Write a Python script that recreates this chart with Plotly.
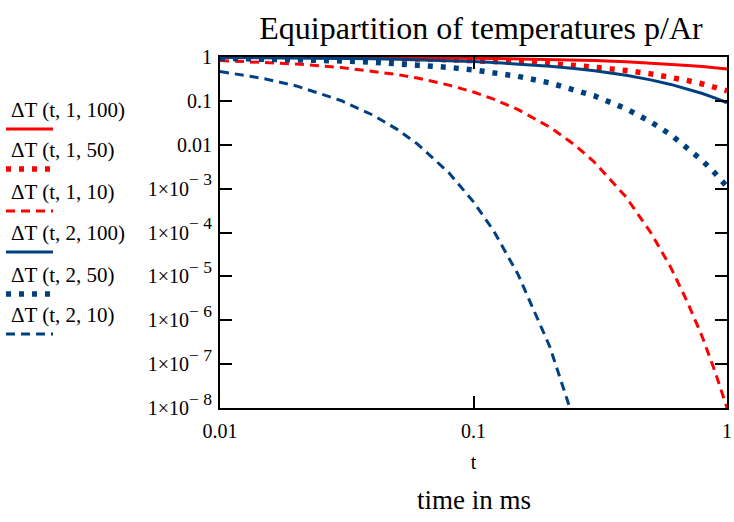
import plotly.graph_objects as go

# ---- data ----
t = [0.01, 0.015, 0.02, 0.03, 0.04, 0.05, 0.06, 0.08, 0.1, 0.12, 0.15,
     0.2, 0.25, 0.3, 0.4, 0.5, 0.6, 0.7, 0.8, 0.9, 1.0]

dT_1_100 = [0.994, 0.991, 0.987, 0.981, 0.975, 0.969, 0.963, 0.951, 0.939, 0.927, 0.910,
            0.882, 0.854, 0.828, 0.777, 0.730, 0.685, 0.643, 0.604, 0.567, 0.533]
dT_1_50 = [0.982, 0.974, 0.965, 0.948, 0.932, 0.915, 0.899, 0.868, 0.838, 0.809, 0.767,
           0.702, 0.643, 0.588, 0.493, 0.413, 0.346, 0.290, 0.243, 0.203, 0.170]
dT_1_10 = [0.832, 0.759, 0.692, 0.576, 0.479, 0.399, 0.332, 0.229, 0.159, 0.110, 0.0633,
           0.0252, 0.01005, 0.0040, 6.4e-4, 1.0e-4, 1.6e-5, 2.5e-6, 4.1e-7, 6.4e-8, 1.0e-8]
dT_2_100 = [0.976, 0.965, 0.953, 0.930, 0.908, 0.887, 0.866, 0.825, 0.787, 0.750, 0.698,
            0.619, 0.549, 0.487, 0.383, 0.301, 0.237, 0.186, 0.147, 0.115, 0.0907]
dT_2_50 = [0.934, 0.903, 0.873, 0.815, 0.762, 0.712, 0.665, 0.580, 0.507, 0.442, 0.361,
           0.257, 0.183, 0.130, 0.0659, 0.0334, 0.0169, 0.00856, 0.00434, 0.00220, 0.00111]
t_2_10 = [0.01, 0.015, 0.02, 0.03, 0.04, 0.05, 0.06, 0.08, 0.1, 0.12, 0.15, 0.2, 0.24]
dT_2_10 = [0.468, 0.320, 0.219, 0.102, 0.0478, 0.0224, 0.0105, 2.29e-3, 5.0e-4, 1.1e-4,
           1.1e-5, 2.5e-7, 1.0e-8]

names = ["ΔT (t, 1, 100)", "ΔT (t, 1, 50)", "ΔT (t, 1, 10)",
         "ΔT (t, 2, 100)", "ΔT (t, 2, 50)", "ΔT (t, 2, 10)"]
xs = [t, t, t, t, t, t_2_10]
ys = [dT_1_100, dT_1_50, dT_1_10, dT_2_100, dT_2_50, dT_2_10]

y_tickvals = [1, 0.1, 0.01, 1e-3, 1e-4, 1e-5, 1e-6, 1e-7, 1e-8]
y_ticktext = ["1", "0.1", "0.01"] + [
    "1×10<span style='font-size:25px'><sup>− %d</sup></span>" % k for k in range(3, 9)]
x_tickvals = [0.01, 0.1, 1]
x_ticktext = ["0.01", "0.1", "1"]

RED = "#ff0000"
BLUE = "#00407f"
colors = [RED, RED, RED, BLUE, BLUE, BLUE]
DOT = "5px,8px"
DASH = "9px,6px"
dashes = ["solid", DOT, DASH, "solid", DOT, DASH]
widths = [3, 5.5, 3, 3, 5.5, 3]

FONT = "Times New Roman, Liberation Serif, serif"

fig = go.Figure()
for x, y, n, c, d, w in zip(xs, ys, names, colors, dashes, widths):
    fig.add_trace(go.Scatter(x=x, y=y, name=n, mode="lines",
                             line=dict(color=c, dash=d, width=w),
                             showlegend=False))

# plot-area geometry in pixels (layout only)
L, R, T, B = 220, 727, 57, 408
W, H = 734, 522


def px(x):
    return (x - L) / (R - L)


def py(y):
    return (B - y) / (B - T)


# custom legend: text above line sample
annotations = []
shapes = []
text_y = [110, 150, 192, 233, 275, 315]
for i, (n, c, d, w) in enumerate(zip(names, colors, dashes, widths)):
    ty = text_y[i]
    annotations.append(dict(x=px(9), y=py(ty), xref="paper", yref="paper",
                            text=n, showarrow=False, xanchor="left", yanchor="middle",
                            font=dict(family=FONT, size=21, color="black")))
    ly = ty + 19
    shapes.append(dict(type="line", xref="paper", yref="paper",
                       x0=px(6), x1=px(53), y0=py(ly), y1=py(ly),
                       line=dict(color=c, dash=d, width=w)))

annotations.append(dict(x=0.5, y=py(500), xref="paper", yref="paper",
                        text="time in ms", showarrow=False,
                        xanchor="center", yanchor="middle",
                        font=dict(family=FONT, size=27, color="black")))

fig.update_layout(
    width=W, height=H,
    margin=dict(l=L, r=W - R, t=T, b=H - B, autoexpand=False),
    paper_bgcolor="white", plot_bgcolor="white",
    font=dict(family=FONT, color="black"),
    title=dict(text="Equipartition of temperatures p/Ar", x=481 / W, xanchor="center",
               y=1 - 28 / H, yanchor="middle", yref="container",
               font=dict(family=FONT, size=32, color="black")),
    annotations=annotations, shapes=shapes,
    xaxis=dict(type="log", range=[-2, 0], tickvals=x_tickvals, ticktext=x_ticktext,
               ticks="inside", ticklen=12, tickwidth=1.5, tickcolor="black",
               showline=True, linecolor="black", linewidth=2, mirror="ticks",
               showgrid=False, zeroline=False, automargin=False,
               tickfont=dict(family=FONT, size=20, color="black"),
               ticklabelstandoff=4,
               title=dict(text="t", standoff=14,
                          font=dict(family=FONT, size=20, color="black"))),
    yaxis=dict(type="log", range=[-8, 0], tickvals=y_tickvals, ticktext=y_ticktext,
               ticks="inside", ticklen=12, tickwidth=1.5, tickcolor="black",
               showline=True, linecolor="black", linewidth=2, mirror="ticks",
               showgrid=False, zeroline=False, ticklabelstandoff=2, automargin=False,
               tickfont=dict(family=FONT, size=20, color="black")),
)

fig.write_html("out.html")
